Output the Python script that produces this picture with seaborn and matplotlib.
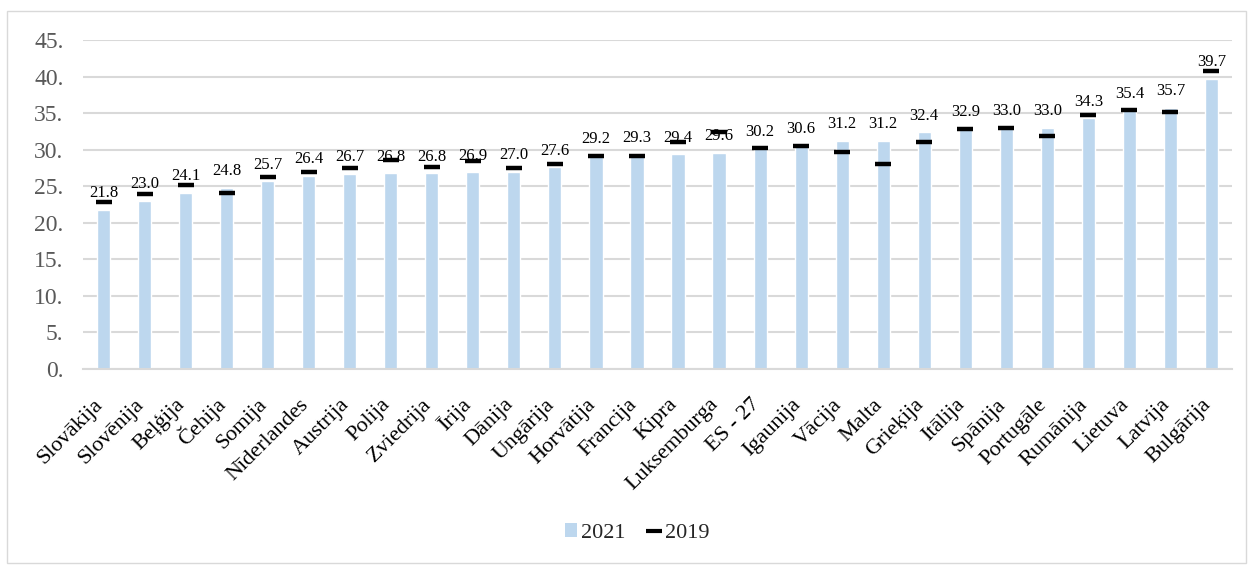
import matplotlib
matplotlib.use("Agg")
import matplotlib.pyplot as plt
from matplotlib.lines import Line2D
from matplotlib.patches import Patch, Rectangle
from matplotlib.ticker import FuncFormatter, MultipleLocator
from matplotlib.transforms import ScaledTranslation
import pandas as pd
import seaborn as sns

countries = [
    "Slovākija", "Slovēnija", "Beļģija", "Čehija", "Somija", "Nīderlandes",
    "Austrija", "Polija", "Zviedrija", "Īrija", "Dānija", "Ungārija",
    "Horvātija", "Francija", "Kipra", "Luksemburga", "ES - 27", "Igaunija",
    "Vācija", "Malta", "Grieķija", "Itālija", "Spānija", "Portugāle",
    "Rumānija", "Lietuva", "Latvija", "Bulgārija",
]
values_2021 = [
    21.8, 23.0, 24.1, 24.8, 25.7, 26.4, 26.7, 26.8, 26.8, 26.9, 27.0, 27.6,
    29.2, 29.3, 29.4, 29.6, 30.2, 30.6, 31.2, 31.2, 32.4, 32.9, 33.0, 33.0,
    34.3, 35.4, 35.7, 39.7,
]
values_2019 = [
    22.8, 23.9, 25.2, 24.1, 26.3, 26.9, 27.5, 28.6, 27.6, 28.4, 27.5, 28.0,
    29.2, 29.2, 31.1, 32.4, 30.2, 30.5, 29.7, 28.0, 31.0, 32.8, 33.0, 31.9,
    34.8, 35.4, 35.2, 40.8,
]

BAR_COLOR = "#BDD7EE"
GRID_COLOR = "#D9D9D9"

df = pd.DataFrame({"country": countries, "y2021": values_2021, "y2019": values_2019})

sns.set_style("white")
plt.rcParams["font.family"] = ["Liberation Serif", "DejaVu Serif"]

fig = plt.figure(figsize=(12.49, 5.65), dpi=100)
ax = fig.add_axes([83 / 1249, 1 - 369 / 565, (1232 - 83) / 1249, (369 - 40) / 565])

sns.barplot(data=df, x="country", y="y2021", color=BAR_COLOR, width=0.32,
            saturation=1, ax=ax, zorder=2)
sns.pointplot(data=df, x="country", y="y2019", color="black", linestyle="none",
              marker="_", markersize=12, markeredgewidth=3.2, errorbar=None,
              ax=ax, zorder=3)

for i, v in enumerate(values_2021):
    ax.annotate(f"{v:.1f}", (i, v), xytext=(0, 9), textcoords="offset points",
                ha="center", va="baseline", fontsize=12, color="black",
                annotation_clip=False, zorder=4)

ax.set_xlim(-0.5, len(countries) - 0.5)
ax.set_ylim(0, 45)
ax.yaxis.set_major_locator(MultipleLocator(5))
ax.yaxis.set_major_formatter(FuncFormatter(lambda v, _: f"{v:.0f}."))
ax.grid(axis="y", color=GRID_COLOR, linewidth=1.5, zorder=0)
ax.set_axisbelow(True)
for side in ["left", "right", "top"]:
    ax.spines[side].set_visible(False)
ax.spines["bottom"].set_color(GRID_COLOR)
ax.spines["bottom"].set_linewidth(1.5)

ax.set_xlabel("")
ax.set_ylabel("")
ax.tick_params(axis="y", length=0, pad=14, labelsize=17, labelcolor="#595959")
ax.tick_params(axis="x", length=0, pad=0, labelsize=16, labelcolor="black")
ax.set_xticks(range(len(countries)))
ax.set_xticklabels(countries, rotation=45, ha="right", va="baseline",
                   rotation_mode="anchor")
# Excel puts the end of each rotated label just below its tick
shift = ScaledTranslation(0.0, -0.36, fig.dpi_scale_trans)
for lbl in ax.get_xticklabels():
    lbl.set_transform(lbl.get_transform() + shift)

handles = [
    Patch(facecolor=BAR_COLOR, edgecolor="none", label="2021"),
    Line2D([], [], color="black", marker="_", linestyle="none",
           markersize=11, markeredgewidth=3, label="2019"),
]
fig.legend(handles=handles, loc="center", bbox_to_anchor=(0.51, 1 - 533 / 565),
           ncol=2, frameon=False, fontsize=16, handlelength=0.55,
           handleheight=0.55, handletextpad=0.2, columnspacing=1.0)

fig.patches.append(Rectangle((7 / 1249, 2 / 565), 1239 / 1249, 552 / 565,
                             transform=fig.transFigure, fill=False,
                             edgecolor="#D9D9D9", linewidth=1))

fig.savefig("out.png", dpi=100)
